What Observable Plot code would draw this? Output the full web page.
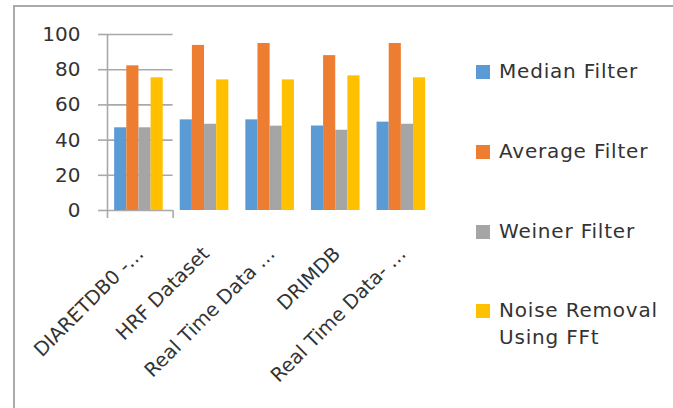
<!DOCTYPE html>
<html>
<head>
<meta charset="utf-8">
<script src="https://cdn.jsdelivr.net/npm/d3@7"></script>
<script src="https://cdn.jsdelivr.net/npm/@observablehq/plot@0.6"></script>
<style>
  body { margin: 0; background: #fff; }
  #wrap { position: relative; width: 673px; height: 408px; overflow: hidden; background: #fff; font-family: "DejaVu Sans", sans-serif; }
  #border { position: absolute; left: 13px; top: 5px; width: 720px; height: 460px; border-left: 2px solid #aaaaaa; border-top: 2px solid #aaaaaa; }
  .layer { position: absolute; left: 0; top: 0; }
  .lg { position: absolute; left: 476px; font-size: 20px; letter-spacing: 0.8px; color: #333; line-height: 27px; }
  .lg .sw { position: absolute; left: 0; top: 7px; width: 14px; height: 14px; }
  .lg .tx { position: absolute; left: 23px; top: 0; white-space: nowrap; }
</style>
</head>
<body>
<div id="wrap"><div id="border"></div></div>
<script>
// ---- data ----
const categories = ["DIARETDB0 -…", "HRF Dataset", "Real Time Data …", "DRIMDB", "Real Time Data- …"];
const seriesNames = ["Median Filter", "Average Filter", "Weiner Filter", "Noise Removal Using FFt"];
const seriesLegend = [["Median Filter"], ["Average Filter"], ["Weiner Filter"], ["Noise Removal", "Using FFt"]];
const medianFilter = [47, 51.5, 51.5, 48, 50.2];
const averageFilter = [82.2, 93.8, 94.9, 88, 94.9];
const weinerFilter = [47, 49, 47.9, 45.6, 49];
const noiseRemovalFFt = [75.4, 74.2, 74.2, 76.5, 75.4];
const yTicks = [0, 20, 40, 60, 80, 100];
const colors = ["#5b9bd5", "#ed7d31", "#a5a5a5", "#ffc000"];

const seriesValues = [medianFilter, averageFilter, weinerFilter, noiseRemovalFFt];
const rows = [];
categories.forEach((c, i) => seriesNames.forEach((s, j) => rows.push({category: c, series: s, value: seriesValues[j][i]})));

const common = {
  width: 460, height: 408,
  marginLeft: 107, marginRight: 25, marginTop: 34, marginBottom: 198,
  style: {fontFamily: "DejaVu Sans, sans-serif", fontSize: "20px", color: "#333", background: "transparent", overflow: "visible"}
};

const gridColor = "#a9a9a9";

// background layer: grid, axes, labels
const back = Plot.plot({
  ...common,
  fx: {domain: categories, padding: 0, round: false, axis: null, label: null},
  x: {domain: [0, 1], axis: null},
  y: {domain: [0, 100], axis: null},
  marks: [
    Plot.gridY(yTicks, {stroke: gridColor, strokeOpacity: 1, strokeWidth: 1.6}),
    Plot.axisY(yTicks, {anchor: "left", tickSize: 9, tickPadding: 18, fontSize: 20, stroke: gridColor, strokeWidth: 1.6, fill: "#333", label: null}),
    Plot.axisX([0, 1], {anchor: "bottom", tickSize: 8, tickFormat: () => "", stroke: gridColor, strokeWidth: 1.6, label: null}),
    Plot.ruleX([0], {fx: () => categories[0], y1: 0, y2: 100, stroke: gridColor, strokeWidth: 1.6}),
    Plot.axisFx({anchor: "bottom", tickSize: 0, tickRotate: -45, tickPadding: 40, fontSize: 19.5, fill: "#333", label: null})
  ]
});

// foreground layer: grouped bars
const front = Plot.plot({
  ...common,
  fx: {domain: categories, padding: 0, round: false, axis: null, label: null},
  x: {domain: seriesNames, paddingInner: 0, paddingOuter: 0.7, align: 0.42, round: false, axis: null},
  y: {domain: [0, 100], axis: null},
  color: {domain: seriesNames, range: colors},
  marks: [
    Plot.barY(rows, {fx: "category", x: "series", y: "value", fill: "series"})
  ]
});

const wrap = document.getElementById("wrap");
back.classList.add("layer");
front.classList.add("layer");
wrap.appendChild(back);
wrap.appendChild(front);

// legend
const legendTops = [58, 138, 218, 297];
seriesLegend.forEach((lines, i) => {
  const d = document.createElement("div");
  d.className = "lg";
  d.style.top = legendTops[i] + "px";
  const sw = document.createElement("div");
  sw.className = "sw";
  sw.style.background = colors[i];
  const tx = document.createElement("div");
  tx.className = "tx";
  tx.innerHTML = lines.join("<br>");
  d.appendChild(sw);
  d.appendChild(tx);
  wrap.appendChild(d);
});
</script>
</body>
</html>
